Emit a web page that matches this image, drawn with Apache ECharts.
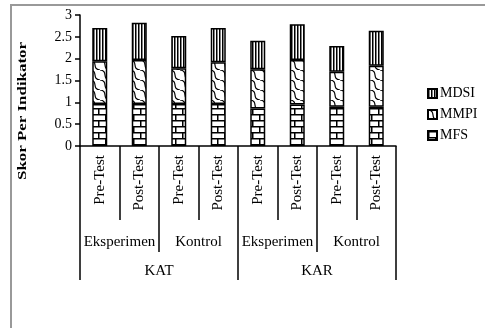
<!DOCTYPE html>
<html>
<head>
<meta charset="utf-8">
<script src="https://cdn.jsdelivr.net/npm/echarts@6/dist/echarts.min.js"></script>
<style>
  html, body { margin: 0; padding: 0; background: #fff; }
  #chart { width: 485px; height: 328px; }
</style>
</head>
<body>
<div id="chart"></div>
<script>
// data
var testLabels = ['Pre-Test', 'Post-Test', 'Pre-Test', 'Post-Test', 'Pre-Test', 'Post-Test', 'Pre-Test', 'Post-Test']
var groupLabels = ['Eksperimen', 'Kontrol', 'Eksperimen', 'Kontrol']
var blockLabels = ['KAT', 'KAR']
var mfs = [0.96, 0.96, 0.96, 0.96, 0.86, 0.95, 0.90, 0.90]
var mmpi = [0.98, 1.01, 0.82, 0.96, 0.90, 1.02, 0.80, 0.94]
var mdsi = [0.76, 0.85, 0.74, 0.78, 0.65, 0.82, 0.59, 0.80]
var yTicks = [0, 0.5, 1, 1.5, 2, 2.5, 3]

var serif = '"Liberation Serif", "DejaVu Serif", serif'

// fill patterns drawn on small canvases
function makePattern (w, h, draw) {
  var c = document.createElement('canvas')
  c.width = w
  c.height = h
  var ctx = c.getContext('2d')
  ctx.fillStyle = '#fff'
  ctx.fillRect(0, 0, w, h)
  ctx.fillStyle = '#000'
  ctx.strokeStyle = '#000'
  draw(ctx)
  return { image: c, repeat: 'repeat' }
}

var brick = makePattern(14, 12, function (ctx) {
  ctx.fillRect(0, 0, 14, 1.5)
  ctx.fillRect(0, 6, 14, 1.5)
  ctx.fillRect(0, 0, 1.5, 6)
  ctx.fillRect(7, 6, 1.5, 6)
})

var wave = makePattern(10, 10, function (ctx) {
  ctx.lineWidth = 1.2
  ctx.beginPath()
  ctx.moveTo(0, 0)
  ctx.bezierCurveTo(9, 1, 1, 9, 10, 10)
  ctx.stroke()
})

var stripes = makePattern(3, 4, function (ctx) {
  ctx.fillRect(0, 0, 1.5, 4)
})

var chart = echarts.init(document.getElementById('chart'))

var barStyle = function (fill) {
  return { color: fill, borderColor: '#000', borderWidth: 1.5 }
}

var tickLine = { color: '#000', width: 1.5 }

var option = {
  animation: false,
  backgroundColor: '#fff',
  grid: { left: 80, right: 89, top: 15, bottom: 182 },
  legend: {
    orient: 'vertical',
    left: 422,
    top: 81,
    icon: 'rect',
    itemWidth: 9,
    itemHeight: 9,
    itemGap: 6,
    data: ['MDSI', 'MMPI', 'MFS'],
    textStyle: { color: '#000', fontFamily: serif, fontSize: 14, lineHeight: 15, padding: [0, 0, 0, -2] }
  },
  xAxis: [
    {
      type: 'category',
      data: testLabels,
      position: 'bottom',
      axisLine: { show: true, lineStyle: tickLine },
      axisTick: { show: true, length: 74, interval: 0, lineStyle: tickLine },
      axisLabel: { interval: 0, rotate: 90, margin: 9, color: '#000', fontFamily: serif, fontSize: 15 }
    },
    {
      type: 'category',
      data: groupLabels,
      position: 'bottom',
      axisLine: { show: false },
      axisTick: { show: true, length: 106, interval: 0, lineStyle: tickLine },
      axisLabel: { interval: 0, margin: 89, color: '#000', fontFamily: serif, fontSize: 15 }
    },
    {
      type: 'category',
      data: blockLabels,
      position: 'bottom',
      axisLine: { show: false },
      axisTick: { show: true, length: 134, interval: 0, lineStyle: tickLine },
      axisLabel: { interval: 0, margin: 118, color: '#000', fontFamily: serif, fontSize: 15 }
    }
  ],
  yAxis: {
    type: 'value',
    min: yTicks[0],
    max: yTicks[yTicks.length - 1],
    interval: 0.5,
    splitLine: { show: false },
    axisLine: { show: true, lineStyle: tickLine },
    axisTick: { show: true, length: 5, lineStyle: tickLine },
    axisLabel: { margin: 8, color: '#000', fontFamily: serif, fontSize: 14 }
  },
  graphic: [
    {
      type: 'rect',
      z: -1,
      shape: { x: 11, y: 5, width: 600, height: 500 },
      style: { fill: 'none', stroke: '#999', lineWidth: 2 }
    },
    {
      type: 'text',
      x: 23,
      y: 111,
      rotation: Math.PI / 2,
      scaleX: 1.3,
      style: {
        text: 'Skor Per Indikator',
        font: 'bold 13px ' + serif,
        fill: '#000',
        align: 'center',
        verticalAlign: 'middle'
      }
    }
  ],
  series: [
    { name: 'MFS', type: 'bar', stack: 'skor', barWidth: 15, data: mfs, itemStyle: barStyle(brick) },
    { name: 'MMPI', type: 'bar', stack: 'skor', barWidth: 15, data: mmpi, itemStyle: barStyle(wave) },
    { name: 'MDSI', type: 'bar', stack: 'skor', barWidth: 15, data: mdsi, itemStyle: barStyle(stripes) }
  ]
}

chart.setOption(option)
</script>
</body>
</html>
